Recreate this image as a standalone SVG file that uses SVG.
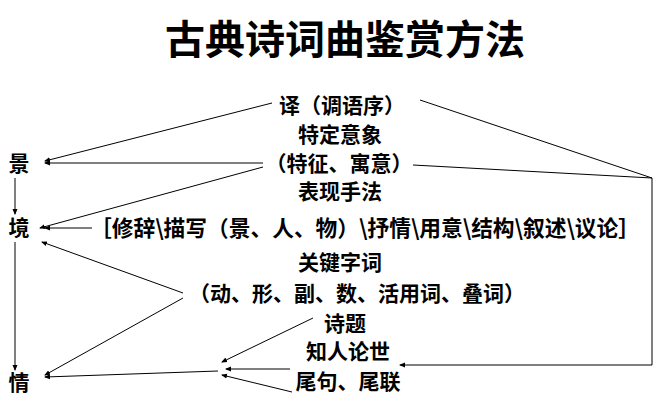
<svg xmlns="http://www.w3.org/2000/svg" width="663" height="408" viewBox="0 0 663 408">
<defs><marker id="a" markerWidth="6" markerHeight="6" refX="5" refY="3" orient="auto" markerUnits="userSpaceOnUse"><path d="M0,0.5 L6,3 L0,5.5 Z" fill="#000"/></marker></defs>
<style>text{font-family:"Noto Sans CJK SC",sans-serif;font-weight:bold;fill:#000;text-anchor:middle}.t{font-size:21px}.c line,.c polyline{stroke:#000;stroke-width:1;fill:none;marker-end:url(#a)}</style>
<rect width="663" height="408" fill="#fff"/>
<text x="345" y="54" style="font-size:40px">古典诗词曲鉴赏方法</text>
<g id="n-jing"><text class="t" x="19" y="171">景</text></g>
<g id="n-jing2"><text class="t" x="19" y="235">境</text></g>
<g id="n-qing"><text class="t" x="19" y="390">情</text></g>
<g id="n-yi"><text class="t" x="342" y="113">译（调语序）</text></g>
<g id="n-yx"><text class="t" x="340" y="142">特定意象</text><text class="t" x="339" y="171">（特征、寓意）</text></g>
<g id="n-bx"><text class="t" x="340" y="199">表现手法</text><text x="365" y="236" style="font-size:22px" textLength="550" lengthAdjust="spacingAndGlyphs">［修辞\描写（景、人、物）\抒情\用意\结构\叙述\议论］</text></g>
<g id="n-gj"><text class="t" x="340" y="270">关键字词</text><text class="t" x="357" y="301">（动、形、副、数、活用词、叠词）</text></g>
<g id="n-st"><text class="t" x="345" y="331">诗题</text></g>
<g id="n-zr"><text class="t" x="348" y="359">知人论世</text></g>
<g id="n-wj"><text class="t" x="348" y="389">尾句、尾联</text></g>
<g class="c">
<line x1="272" y1="103" x2="45" y2="161"/>
<line x1="263" y1="163" x2="45" y2="163"/>
<line x1="263" y1="167" x2="40" y2="228"/>
<line x1="92" y1="228" x2="45" y2="228"/>
<line x1="15" y1="178" x2="15" y2="214"/>
<line x1="15" y1="242" x2="15" y2="370"/>
<line x1="183" y1="293" x2="42" y2="242"/>
<line x1="183" y1="298" x2="45" y2="375"/>
<line x1="313" y1="318" x2="222" y2="362"/>
<line x1="290" y1="369" x2="226" y2="369"/>
<line x1="292" y1="392" x2="222" y2="375"/>
<line x1="218" y1="371" x2="45" y2="377"/>
<line x1="420" y1="100" x2="652" y2="178" style="marker-end:none"/>
<line x1="413" y1="165" x2="652" y2="178" style="marker-end:none"/>
<polyline points="652,178 652,365 400,365"/>
</g>
</svg>
